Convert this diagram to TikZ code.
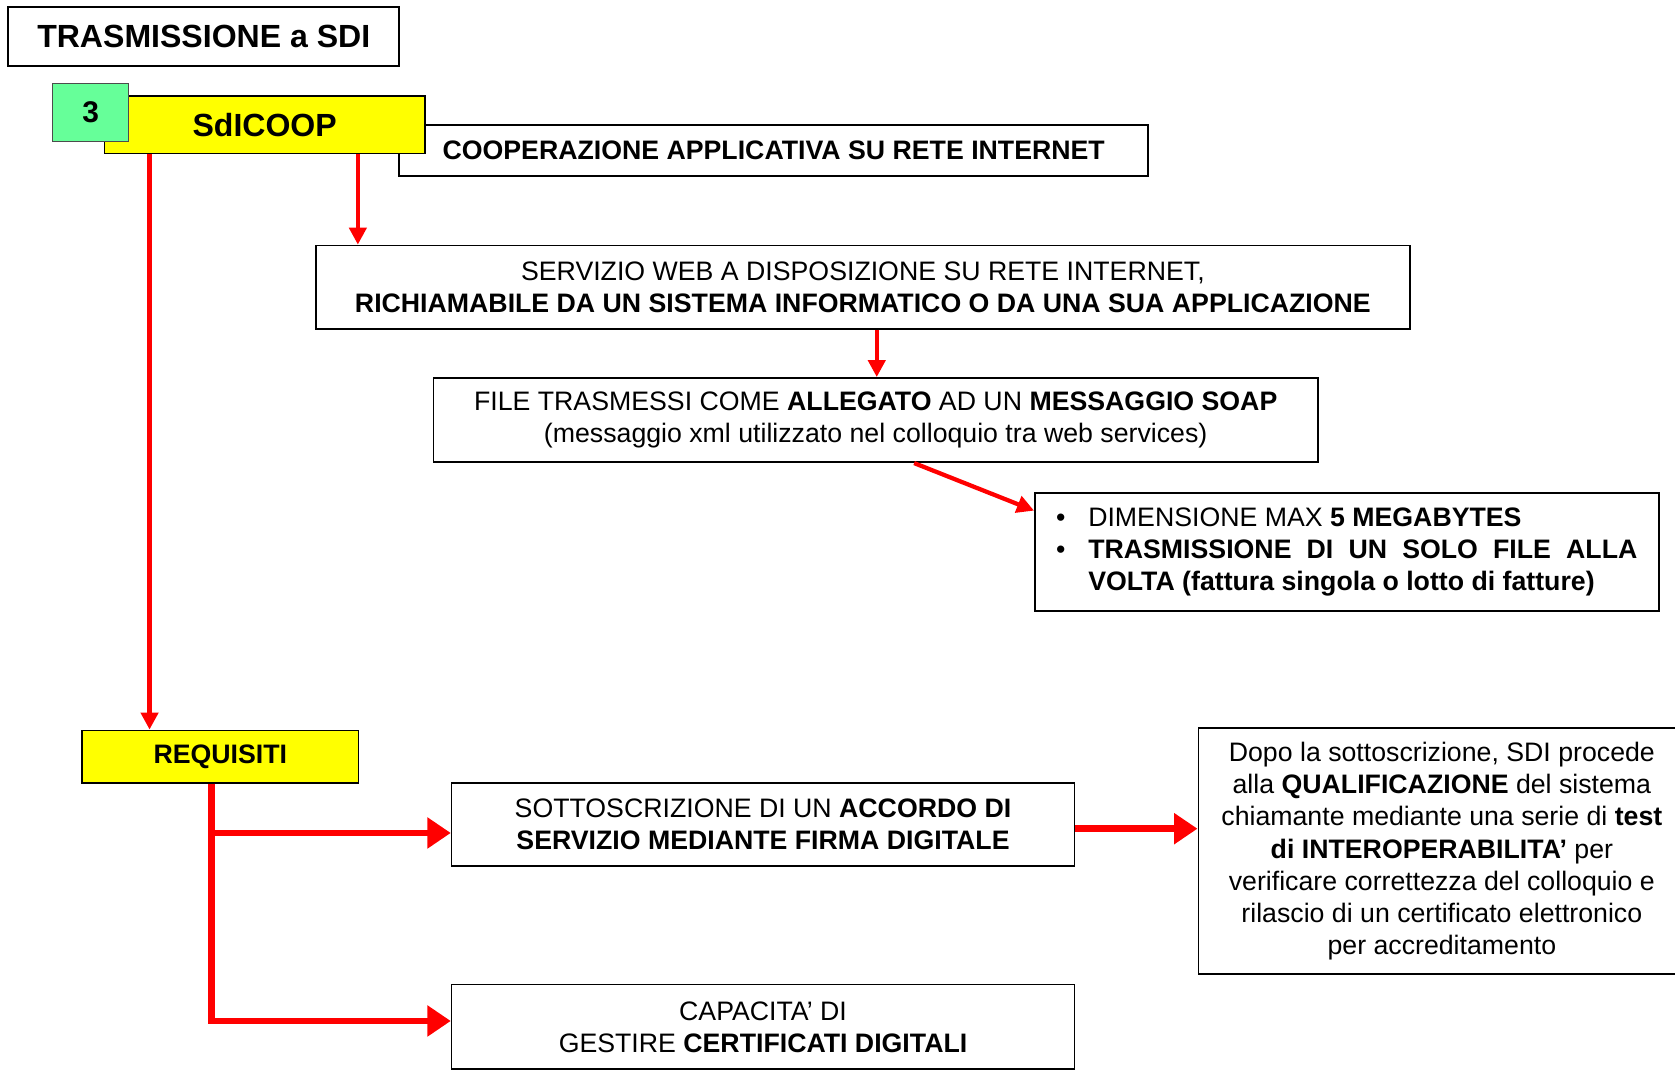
\documentclass[tikz,border=0pt]{standalone}
\usepackage{fontspec}
\setmainfont{Liberation Sans}
\usetikzlibrary{arrows.meta,calc}
\definecolor{myred}{RGB}{255,0,0}
\definecolor{myyellow}{RGB}{255,255,0}
\definecolor{mygreen}{RGB}{102,255,153}
\tikzset{
  box/.style={draw=black, line width=1.5pt, fill=white, align=center, inner sep=0pt, anchor=north west},
  txt/.style={font=\fontsize{25}{30}\selectfont},
  thinarrow/.style={draw=myred, line width=4pt, -{Triangle[length=16pt,width=16pt]}},
  thickarrow/.style={draw=myred, line width=6pt, -{Triangle[length=22pt,width=28pt]}},
}
\begin{document}
\begin{tikzpicture}[x=1pt,y=-1pt]
\useasboundingbox (0,0) rectangle (1568,1001);
% title
\node[box, minimum width=366pt, minimum height=55pt, font=\fontsize{30}{34}\selectfont\bfseries] (title) at (7,6) {TRASMISSIONE a SDI};
% cooperazione
\node[box, minimum width=701pt, minimum height=48pt, font=\fontsize{25}{30}\selectfont\bfseries] (coop) at (373,116) {COOPERAZIONE APPLICATIVA SU RETE INTERNET};
% sdicoop
\node[box, fill=myyellow, minimum width=300pt, minimum height=54pt, font=\fontsize{30}{34}\selectfont\bfseries] (sdi) at (97,89) {SdICOOP};
\node[box, fill=mygreen, draw=black!70, line width=1pt, minimum width=71pt, minimum height=54pt, font=\fontsize{28}{32}\selectfont\bfseries] (num) at (49,78) {3};
% servizio
\node[box, txt, minimum width=1024pt, minimum height=78pt] (serv) at (295,229) {SERVIZIO WEB A DISPOSIZIONE SU RETE INTERNET,\\\textbf{RICHIAMABILE DA UN SISTEMA INFORMATICO O DA UNA SUA APPLICAZIONE}};
% file
\node[box, txt, minimum width=828pt, minimum height=79pt] (file) at (405,353) {FILE TRASMESSI COME \textbf{ALLEGATO} AD UN \textbf{MESSAGGIO SOAP}\\(messaggio xml utilizzato nel colloquio tra web services)};
% dimensione
\node[box, txt, minimum width=584pt, minimum height=110pt] (dim) at (968,461) {%
\begin{tabular}{@{}p{30pt}@{}p{514pt}@{}}
\textbullet & DIMENSIONE MAX \textbf{5 MEGABYTES}\\
\textbullet & \makebox[514pt][s]{\bfseries TRASMISSIONE DI UN SOLO FILE ALLA}\\
 & \textbf{VOLTA (fattura singola o lotto di fatture)}
\end{tabular}};
% requisiti
\node[box, fill=myyellow, minimum width=259pt, minimum height=49pt, font=\fontsize{25}{30}\selectfont\bfseries] (req) at (76,683) {REQUISITI};
% sottoscrizione
\node[box, txt, minimum width=583pt, minimum height=78pt] (sotto) at (422,732) {SOTTOSCRIZIONE DI UN \textbf{ACCORDO DI}\\\textbf{SERVIZIO MEDIANTE FIRMA DIGITALE}};
% capacita
\node[box, txt, minimum width=583pt, minimum height=79pt] (cap) at (422,921) {CAPACITA’ DI\\GESTIRE \textbf{CERTIFICATI DIGITALI}};
% dopo
\node[box, txt, minimum width=456pt, minimum height=230pt] (dopo) at (1121,681) {Dopo la sottoscrizione, SDI procede\\alla \textbf{QUALIFICAZIONE} del sistema\\chiamante mediante una serie di \textbf{test}\\\textbf{di INTEROPERABILITA’} per\\verificare correttezza del colloquio e\\rilascio di un certificato elettronico\\per accreditamento};
% connectors
\coordinate (a1) at ($(sdi.south west)+(43,0)$);
\draw[thinarrow] (a1) -- (a1 |- req.north);
\coordinate (a2) at ($(sdi.south west)+(238,0)$);
\draw[thinarrow] (a2) -- (a2 |- serv.north);
\coordinate (a3) at ($(serv.south)+(13,0)$);
\draw[thinarrow] (a3) -- (a3 |- file.north);
\coordinate (a4) at ($(file.south)+(36,0)$);
\coordinate (a4e) at ($(dim.north west)+(0,17)$);
\draw[thinarrow] (a4) -- (a4e);
\coordinate (rq) at ($(req.south west)+(122,0)$);
\coordinate (t1) at ($(sotto.west)+(0,8)$);
\coordinate (t2) at ($(cap.west)+(0,-5.5)$);
\draw[draw=myred, line width=6pt] (rq) -- ($(rq |- t2)+(0,3)$);
\draw[thickarrow] ($(rq |- t1)+(-3,0)$) -- (t1);
\draw[thickarrow] ($(rq |- t2)+(-3,0)$) -- (t2);
\coordinate (s1) at ($(sotto.east)+(0,4)$);
\draw[thickarrow] (s1) -- (s1 -| dopo.west);
\end{tikzpicture}
\end{document}
